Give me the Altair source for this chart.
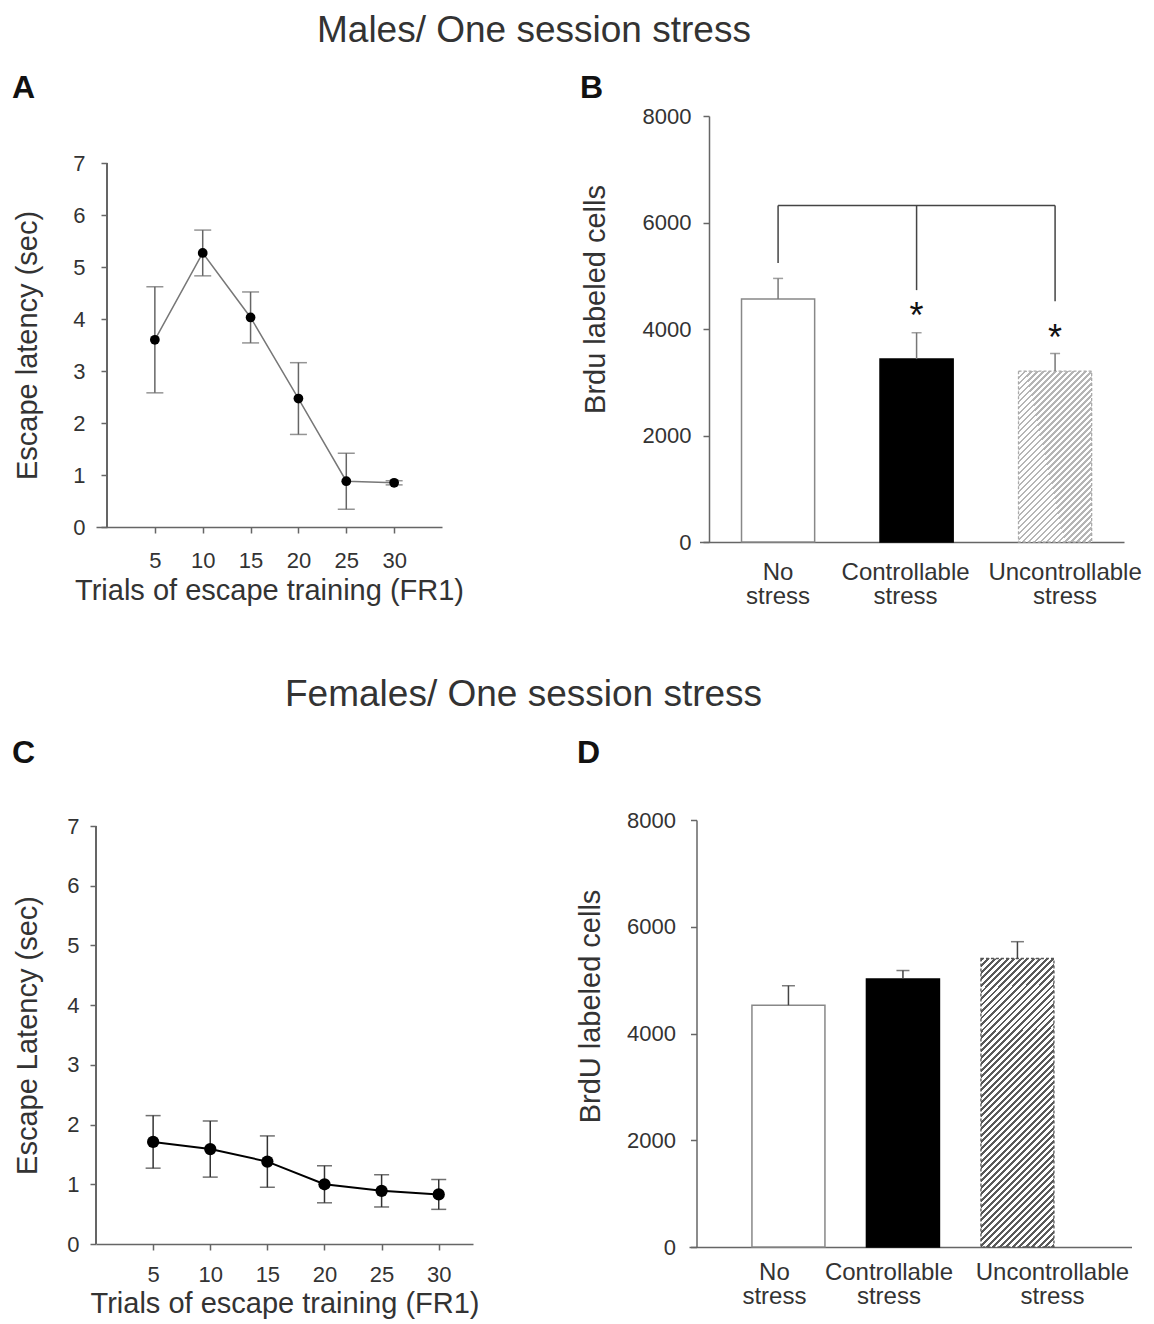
import altair as alt
import pandas as pd

FONT = "Liberation Sans"
TXT = "#333333"
AX = "#666666"

# ---------------- data ----------------
trials = [5, 10, 15, 20, 25, 30]
male_latency = [3.60, 5.27, 4.03, 2.47, 0.88, 0.85]
male_latency_err = [1.02, 0.44, 0.49, 0.69, 0.54, 0.04]
female_latency = [1.71, 1.59, 1.38, 1.00, 0.89, 0.83]
female_latency_err = [0.44, 0.47, 0.43, 0.31, 0.27, 0.25]

groups = ["No stress", "Controllable stress", "Uncontrollable stress"]
male_brdu = [4565, 3435, 3210]
male_brdu_sem = [385, 495, 330]
female_brdu = [4530, 5020, 5405]
female_brdu_sem = [365, 160, 315]

bracket_groups = ["No stress", "Controllable stress", "Uncontrollable stress"]
bracket_level = 6320
bracket_ends = [5240, 4730, 4520]
star_groups = ["Controllable stress", "Uncontrollable stress"]
star_values = [4400, 3990]

latency_ticks = [0, 1, 2, 3, 4, 5, 6, 7]
brdu_ticks = [0, 2000, 4000, 6000, 8000]


def hatch(w, h, period, duty, color):
    """Diagonal '/' hatch made from a striped linear gradient (bbox units)."""
    L = w + h
    k = (w + h) / (w * w + h * h)
    step = period / L
    n = int(L / period) + 1
    stops = []
    for i in range(n + 1):
        a = i * step
        b = a + step * duty
        c = a + step
        for off, col in ((a, color), (b, color), (b, "#ffffff"), (c, "#ffffff")):
            stops.append({"offset": min(off, 1.0), "color": col})
    return {"gradient": "linear", "x1": 0, "y1": 0, "x2": w * k, "y2": h * k,
            "stops": stops}


def letter_title(text, dx, offset):
    return alt.TitleParams(text, anchor="start", frame="group", dx=dx, offset=offset,
                           fontSize=32, fontWeight="bold", color="#111111", font=FONT)


def line_panel(mean, err, width, height, xmin, xmax, ymax, y_offset, title_y, letter,
               ytitle, line_color, line_w, pt_size, cap, err_color, letter_dx,
               letter_offset, ylab_pad, ytitle_pad, xlab_pad, xtitle_pad):
    df = pd.DataFrame({"trial": trials, "mean": mean, "err": err})
    df["lo"] = df["mean"] - df["err"]
    df["hi"] = df["mean"] + df["err"]
    xs = alt.Scale(domain=[xmin, xmax], nice=False, zero=False)
    # the plot area reaches a little above 7 so that the panel tops line up like the
    # original; the visible y-axis line stops at 7
    ys = alt.Scale(domain=[0, ymax], nice=False)
    xenc = alt.X("trial:Q", scale=xs,
                 axis=alt.Axis(values=trials, title="Trials of escape training (FR1)",
                               labelPadding=xlab_pad, titlePadding=xtitle_pad))
    yenc = alt.Y("mean:Q", scale=ys,
                 axis=alt.Axis(values=latency_ticks, format="d", title=ytitle,
                               domain=False, titleY=title_y, offset=y_offset,
                               labelPadding=ylab_pad, titlePadding=ytitle_pad))
    base = alt.Chart(df)
    line = base.mark_line(color=line_color, strokeWidth=line_w).encode(x=xenc, y=yenc)
    yline = base.mark_rule(color=AX, strokeWidth=1.5).encode(
        x=alt.datum(0), y=alt.datum(latency_ticks[0]), y2=alt.datum(latency_ticks[-1]))
    rule = base.mark_rule(color=err_color, strokeWidth=1.5).encode(
        x="trial:Q", y="lo:Q", y2="hi:Q")
    cap_hi = base.mark_tick(color=err_color, orient="horizontal", size=cap,
                            thickness=1.5).encode(x="trial:Q", y="hi:Q")
    cap_lo = base.mark_tick(color=err_color, orient="horizontal", size=cap,
                            thickness=1.5).encode(x="trial:Q", y="lo:Q")
    pts = base.mark_circle(color="#000000", size=pt_size, opacity=1).encode(
        x="trial:Q", y="mean:Q")
    return alt.layer(line, yline, rule, cap_hi, cap_lo, pts).properties(
        width=width, height=height, title=letter_title(letter, letter_dx, letter_offset))


def bar_panel(vals, sems, width, height, letter, ytitle, title_y, scale_kw, y_offset,
              label_offset, xlab_pad, ylab_pad, ytitle_pad, open_stroke, err_color,
              cap, hatch_fill, hatch_stroke, letter_dx, letter_offset, extra=None):
    df = pd.DataFrame({"group": groups, "value": vals, "sem": sems})
    df["top"] = df["value"] + df["sem"]
    xs = alt.Scale(domain=groups, **scale_kw)
    xenc = alt.X("group:N", scale=xs, sort=groups,
                 axis=alt.Axis(title=None, labelAngle=0, ticks=False,
                               labelExpr="split(datum.label, ' ')",
                               labelFontSize=24, labelLineHeight=24,
                               labelPadding=xlab_pad, labelOffset=label_offset))
    yenc = alt.Y("value:Q", scale=alt.Scale(domain=[0, 8000], nice=False),
                 axis=alt.Axis(values=brdu_ticks, format="d", title=ytitle,
                               offset=y_offset, titleY=title_y, labelPadding=ylab_pad,
                               titlePadding=ytitle_pad))
    base = alt.Chart(df)
    bars = base.mark_bar(strokeWidth=1.5).encode(
        x=xenc, y=yenc,
        fill=alt.Fill("group:N", scale=alt.Scale(domain=groups,
                      range=["#ffffff", "#000000", "#ffffff"]), legend=None),
        stroke=alt.Stroke("group:N", scale=alt.Scale(domain=groups,
                          range=[open_stroke, "#000000", "transparent"]), legend=None),
    )
    hatched = base.transform_filter(
        alt.datum.group == "Uncontrollable stress"
    ).mark_bar(fill=hatch_fill, stroke=hatch_stroke, strokeWidth=1.3,
               strokeDash=[3, 2]).encode(x="group:N", y="value:Q")
    err = base.mark_rule(color=err_color, strokeWidth=1.5).encode(
        x="group:N", y="value:Q", y2="top:Q")
    cap_t = base.mark_tick(color=err_color, orient="horizontal", size=cap,
                           thickness=1.5).encode(x="group:N", y="top:Q")
    layers = [bars, hatched, err, cap_t]
    if extra:
        layers += extra
    return alt.layer(*layers).properties(
        width=width, height=height, title=letter_title(letter, letter_dx, letter_offset))


# ---------- significance annotation for panel B ----------
br_df = pd.DataFrame({"group": bracket_groups, "level": [bracket_level] * 3,
                      "end": bracket_ends})
bracket_line = alt.Chart(br_df).transform_filter(
    alt.datum.group != "Controllable stress"
).mark_line(color="#444444", strokeWidth=1.5).encode(x="group:N", y="level:Q")
bracket_drops = alt.Chart(br_df).mark_rule(color="#444444", strokeWidth=1.5).encode(
    x="group:N", y="level:Q", y2="end:Q")
star_df = pd.DataFrame({"group": star_groups, "y": star_values})
stars = alt.Chart(star_df).mark_text(text="*", fontSize=36, font=FONT, color="#111111",
                                     baseline="alphabetic", dy=20).encode(
    x="group:N", y="y:Q")

# ---------- panels ----------
panel_a = line_panel(male_latency, male_latency_err, 346, 411, -11 * 35 / 335, 35,
                     7 * 411 / 364, -11, 229,
                     "A", "Escape latency (sec)", "#777777", 1.5, 95, 17, "#666666",
                     -84, 11, 16, 30, 17, 5)
panel_c = line_panel(female_latency, female_latency_err, 377, 424, 0, 33,
                     7 * 424 / 418, 0, 215,
                     "C", "Escape Latency (sec)", "#000000", 2, 150, 15, "#333333",
                     -84, 45, 11, 24, 14, 4)

b_label_offset = {"condition": [{"test": "datum.value == 'Controllable stress'", "value": -11},
                                {"test": "datum.value == 'Uncontrollable stress'", "value": 10}],
                  "value": 0}

panel_b = bar_panel(male_brdu, male_brdu_sem, 424.5, 426, "B", "Brdu labeled cells", 183,
                    dict(paddingInner=0.472, paddingOuter=0.2685, align=0.565), -9.5,
                    b_label_offset,
                    18, 12, 32, "#888888", "#777777", 10,
                    hatch(73, 171, 6, 0.4, "#b5b5b5"), "#aaaaaa", -119.5, 0,
                    extra=[bracket_line, bracket_drops, stars])
panel_d = bar_panel(female_brdu, female_brdu_sem, 442.5, 427, "D", "BrdU labeled cells", 186,
                    dict(paddingInner=0.3624, paddingOuter=0.6135, align=0.448), -7.5,
                    alt.condition("datum.value == 'Uncontrollable stress'",
                                  alt.value(35), alt.value(-14)),
                    13, 15, 21, "#555555", "#444444", 13,
                    hatch(73, 288, 6.5, 0.45, "#5a5a5a"), "#555555", -112, 39)

row1 = alt.concat(panel_a, panel_b, columns=2, align="none", spacing=115.5).properties(
    title=alt.TitleParams("Males/ One session stress", anchor="start", frame="bounds",
                          dx=305, offset=22, fontSize=37, fontWeight="normal",
                          color=TXT, font=FONT))
row2 = alt.concat(panel_c, panel_d, columns=2, align="none", spacing=97).properties(
    title=alt.TitleParams("Females/ One session stress", anchor="start", frame="bounds",
                          dx=273, offset=23, fontSize=37, fontWeight="normal",
                          color=TXT, font=FONT))

chart = alt.concat(row1, row2, columns=1, align="none", spacing=68).properties(
    padding={"left": 12, "top": 12, "right": 5, "bottom": 5}
).configure_view(stroke=None).configure_axis(
    labelFont=FONT, titleFont=FONT, labelFontSize=22, titleFontSize=29,
    titleFontWeight="normal", labelColor=TXT, titleColor=TXT, domainColor=AX,
    tickColor=AX, domainWidth=1.5, tickWidth=1.5, tickSize=6, grid=False
).configure_title(font=FONT)

chart.save("out.html", embed_options={"renderer": "svg", "actions": False})
